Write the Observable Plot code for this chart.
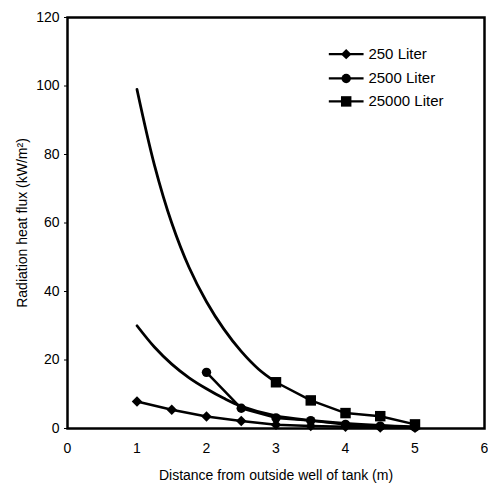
<!DOCTYPE html>
<html>
<head>
<meta charset="utf-8">
<script src="https://cdn.jsdelivr.net/npm/d3@7"></script>
<script src="https://cdn.jsdelivr.net/npm/@observablehq/plot@0.6"></script>
<style>
  html, body { margin: 0; padding: 0; background: #fff; }
  #chart { width: 488px; height: 484px; }
  svg { font-family: "Liberation Sans", Arial, sans-serif; }
</style>
</head>
<body>
<div id="chart"></div>
<script>
// ---- data ----
const seriesNames = ["250 Liter", "2500 Liter", "25000 Liter"];
const symbols = ["diamond2", "circle", "square"];
const symbolR = [4.7, 4.7, 5.9];

// measured points (with markers)
const x250 = [1, 1.5, 2, 2.5, 3, 3.5, 4, 4.5, 5];
const y250 = [7.9, 5.5, 3.5, 2.2, 1.1, 0.7, 0.5, 0.3, 0.2];

const x2500 = [2, 2.5, 3, 3.5, 4, 4.5, 5];
const y2500 = [16.4, 5.9, 3.1, 2.3, 1.2, 0.7, 0.4];

const x25000 = [3, 3.5, 4, 4.5, 5];
const y25000 = [13.5, 8.2, 4.5, 3.6, 1.2];

// smooth fitted curves (no markers)
const xFit2500 = [1, 1.25, 1.5, 1.75, 2, 2.25, 2.5, 3, 3.5, 4, 4.5, 5];
const yFit2500 = [30, 23.8, 18.8, 14.8, 11.6, 8.8, 6.5, 3.7, 2.4, 1.5, 0.9, 0.5];

const xFit25000 = [1, 1.25, 1.5, 1.75, 2, 2.25, 2.5, 2.75, 3];
const yFit25000 = [99, 77, 60, 47, 37, 29, 22.5, 17.3, 13.5];

const xTicks = [0, 1, 2, 3, 4, 5, 6];
const yTicks = [0, 20, 40, 60, 80, 100, 120];

// ---- build tables ----
const seriesXY = [[x250, y250], [x2500, y2500], [x25000, y25000]];
const pts = [];
seriesXY.forEach(([xs, ys], i) =>
  xs.forEach((x, j) => pts.push({series: seriesNames[i], x, y: ys[j]})));

const fits = [];
[[xFit2500, yFit2500, "2500"], [xFit25000, yFit25000, "25000"]].forEach(([xs, ys, s]) =>
  xs.forEach((x, j) => fits.push({series: s, x, y: ys[j]})));

// legend layout (data units inside the frame)
const legendX0 = 3.76, legendX1 = 4.26, legendXm = 4.01, legendXt = 4.33;
const legendY = [109.3, 102.2, 95.5];
const legendRows = seriesNames.map((s, i) => ({name: s, y: legendY[i]}));

const dotMarks = seriesNames.flatMap((s, i) => [
  Plot.dot(pts.filter(d => d.series === s), {x: "x", y: "y", symbol: symbols[i], r: symbolR[i], fill: "#000", stroke: "none"}),
  Plot.dot([legendRows[i]], {x: () => legendXm, y: "y", symbol: symbols[i], r: symbolR[i], fill: "#000", stroke: "none"})
]);

const chart = Plot.plot({
  width: 488,
  height: 484,
  marginLeft: 67,
  marginRight: 4,
  marginTop: 17,
  marginBottom: 56,
  style: {fontFamily: "'Liberation Sans', Arial, sans-serif", fontSize: "14px", background: "#fff", color: "#000"},
  x: {domain: [0, 6]},
  y: {domain: [0, 120]},
  marks: [
    Plot.frame({stroke: "#000", strokeWidth: 2.5}),
    Plot.axisX({ticks: xTicks, tickFormat: d3.format("d"), tickSize: 0, tickPadding: 15, fontSize: 14,
      label: "Distance from outside well of tank (m)", labelAnchor: "center", labelOffset: 51, labelArrow: "none"}),
    Plot.axisY({ticks: yTicks, tickFormat: d3.format("d"), tickSize: 3, tickPadding: 5, fontSize: 14,
      label: "Radiation heat flux (kW/m²)", labelAnchor: "center", labelOffset: 50, labelArrow: "none"}),
    Plot.line(fits, {x: "x", y: "y", z: "series", curve: "catmull-rom", stroke: "#000", strokeWidth: 2.8}),
    Plot.line(pts, {x: "x", y: "y", z: "series", stroke: "#000", strokeWidth: 2.5}),
    ...dotMarks,
    // legend
    Plot.link(legendRows, {x1: () => legendX0, x2: () => legendX1, y1: "y", y2: "y", stroke: "#000", strokeWidth: 2.2}),
    Plot.text(legendRows, {x: () => legendXt, y: "y", text: "name", textAnchor: "start", fontSize: 15, fill: "#000"})
  ]
});
document.getElementById("chart").append(chart);
</script>
</body>
</html>
